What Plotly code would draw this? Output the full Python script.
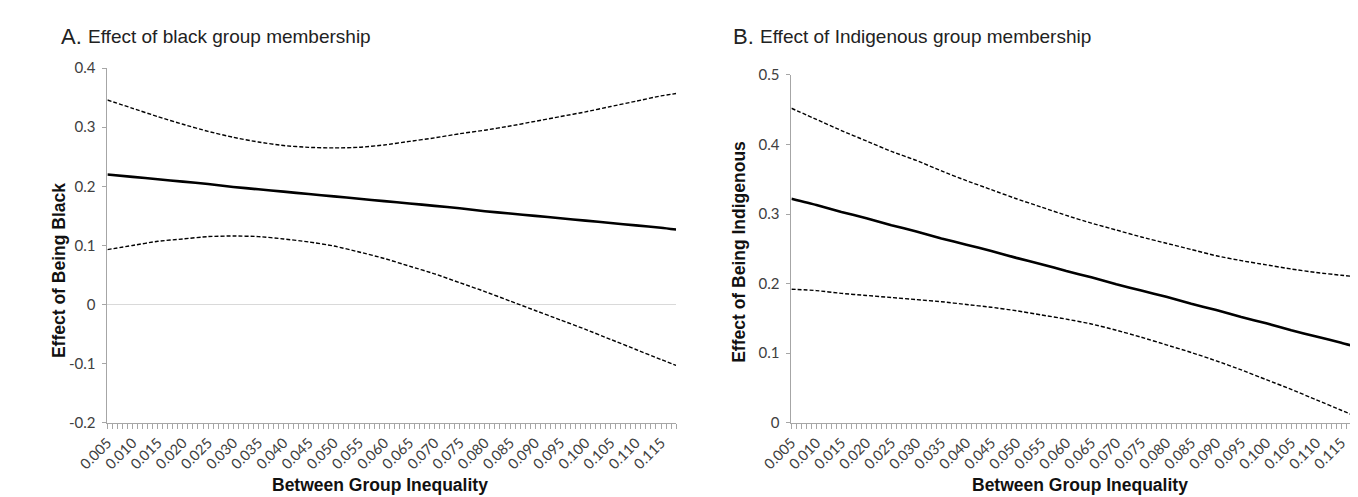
import plotly.graph_objects as go

# ---------------- data ----------------
x_vals = [0.005, 0.010, 0.015, 0.020, 0.025, 0.030, 0.035, 0.040, 0.045, 0.050,
          0.055, 0.060, 0.065, 0.070, 0.075, 0.080, 0.085, 0.090, 0.095, 0.100,
          0.105, 0.110, 0.115, 0.118]

black_effect = [0.220, 0.216, 0.212, 0.208, 0.204, 0.199, 0.195, 0.191, 0.187, 0.183,
                0.179, 0.175, 0.171, 0.167, 0.163, 0.158, 0.154, 0.150, 0.146, 0.142,
                0.138, 0.134, 0.130, 0.127]
black_upper = [0.346, 0.332, 0.318, 0.305, 0.293, 0.283, 0.275, 0.269, 0.266, 0.265,
               0.266, 0.270, 0.276, 0.282, 0.289, 0.295, 0.302, 0.310, 0.318, 0.326,
               0.335, 0.344, 0.353, 0.357]
black_lower = [0.093, 0.100, 0.107, 0.111, 0.115, 0.116, 0.115, 0.111, 0.106, 0.099,
               0.089, 0.078, 0.065, 0.052, 0.037, 0.022, 0.006, -0.010, -0.026, -0.042,
               -0.059, -0.076, -0.093, -0.103]

indig_effect = [0.322, 0.313, 0.303, 0.294, 0.284, 0.275, 0.265, 0.256, 0.247, 0.237,
                0.228, 0.218, 0.209, 0.199, 0.190, 0.181, 0.171, 0.162, 0.152, 0.143,
                0.133, 0.124, 0.115, 0.109]
indig_upper = [0.452, 0.436, 0.420, 0.405, 0.390, 0.377, 0.362, 0.348, 0.335, 0.322,
               0.310, 0.298, 0.287, 0.277, 0.267, 0.258, 0.249, 0.240, 0.233, 0.227,
               0.221, 0.216, 0.212, 0.210]
indig_lower = [0.192, 0.190, 0.186, 0.183, 0.180, 0.177, 0.174, 0.170, 0.166, 0.161,
               0.155, 0.149, 0.142, 0.133, 0.123, 0.112, 0.101, 0.089, 0.076, 0.062,
               0.048, 0.033, 0.018, 0.009]

ya_tickvals = [-0.2, -0.1, 0, 0.1, 0.2, 0.3, 0.4]
ya_ticktext = ["-0.2", "-0.1", "0", "0.1", "0.2", "0.3", "0.4"]
yb_tickvals = [0, 0.1, 0.2, 0.3, 0.4, 0.5]
yb_ticktext = ["0", "0.1", "0.2", "0.3", "0.4", "0.5"]

title_a_letter = "A."
title_a_text = "Effect of black group membership"
title_b_letter = "B."
title_b_text = "Effect of Indigenous group membership"
ytitle_a = "Effect of Being Black"
ytitle_b = "Effect of Being Indigenous"
xtitle = "Between Group Inequality"

# ---------------- figure ----------------
W, H = 1358, 497
AXC = "#a6a6a6"
XTICKFONT = dict(family="Lato, Liberation Sans, Arial", size=14.5, color="#404040")
YTICKFONT = dict(family="Lato, Liberation Sans, Arial", size=15, color="#404040")

fig = go.Figure()

def add_panel(xa, ya, eff, up, lo):
    for ys, dash, w in ((up, "4px,2px", 1.4), (lo, "4px,2px", 1.4), (eff, "solid", 2.6)):
        fig.add_trace(go.Scatter(x=x_vals, y=ys, mode="lines", xaxis=xa, yaxis=ya,
                                 line=dict(color="black", width=w, dash=dash,
                                           shape="spline", smoothing=0.6),
                                 hoverinfo="skip", showlegend=False))

add_panel("x", "y", black_effect, black_upper, black_lower)
add_panel("x2", "y2", indig_effect, indig_upper, indig_lower)

def px_x(p):
    return p / W

def px_y(p):
    return 1 - p / H

xaxis_common = dict(
    range=[0.005, 0.118], tick0=0.005, dtick=0.005, tickformat=".3f",
    tickangle=-45, ticks="outside", ticklen=5, tickcolor=AXC, tickwidth=1,
    showline=True, linecolor=AXC, linewidth=1, showgrid=False, zeroline=False,
    tickfont=XTICKFONT,
    minor=dict(tick0=0.005, dtick=0.001, ticks="outside", ticklen=5,
               tickcolor=AXC, tickwidth=1, showgrid=False),
)

fig.update_layout(
    width=W, height=H, margin=dict(l=0, r=0, t=0, b=0),
    paper_bgcolor="white", plot_bgcolor="white", showlegend=False,
    xaxis=dict(domain=[px_x(70), px_x(652)], anchor="y", **xaxis_common),
    xaxis2=dict(domain=[px_x(770), px_x(1348)], anchor="y2", **xaxis_common),
    yaxis=dict(domain=[px_y(420), px_y(52)], anchor="x", range=[-0.2, 0.4],
               tickvals=ya_tickvals, ticktext=ya_ticktext, ticks="outside",
               ticklen=4, tickcolor=AXC, showline=True, linecolor=AXC,
               showgrid=False, zeroline=True, zerolinecolor="#d9d9d9",
               zerolinewidth=1, tickfont=YTICKFONT, ticklabelstandoff=4),
    yaxis2=dict(domain=[px_y(420), px_y(59)], anchor="x2", range=[0, 0.5],
                tickvals=yb_tickvals, ticktext=yb_ticktext, ticks="outside",
                ticklen=4, tickcolor=AXC, showline=True, linecolor=AXC,
                showgrid=False, zeroline=False, tickfont=YTICKFONT,
                ticklabelstandoff=4),
)

TFONT = "Liberation Sans, Arial"
ann = []
# panel titles
ann.append(dict(x=px_x(20), y=px_y(19), text=title_a_letter, xanchor="left", yanchor="middle",
                font=dict(family=TFONT, size=22, color="#222")))
ann.append(dict(x=px_x(48), y=px_y(19), text=title_a_text, xanchor="left", yanchor="middle",
                font=dict(family=TFONT, size=19, color="#222")))
ann.append(dict(x=px_x(708), y=px_y(19), text=title_b_letter, xanchor="left", yanchor="middle",
                font=dict(family=TFONT, size=22, color="#222")))
ann.append(dict(x=px_x(736), y=px_y(19), text=title_b_text, xanchor="left", yanchor="middle",
                font=dict(family=TFONT, size=19, color="#222")))
# y axis titles
ann.append(dict(x=px_x(20), y=px_y(262), text=ytitle_a, textangle=-90, xanchor="center",
                yanchor="middle", font=dict(family=TFONT, size=17.5, color="#111", weight="bold")))
ann.append(dict(x=px_x(717), y=px_y(243), text=ytitle_b, textangle=-90, xanchor="center",
                yanchor="middle", font=dict(family=TFONT, size=17.5, color="#111", weight="bold")))
# x axis titles
ann.append(dict(x=px_x(349), y=px_y(485), text=xtitle, xanchor="center", yanchor="middle",
                font=dict(family=TFONT, size=17.5, color="#111", weight="bold")))
ann.append(dict(x=px_x(1065), y=px_y(485), text=xtitle, xanchor="center", yanchor="middle",
                font=dict(family=TFONT, size=17.5, color="#111", weight="bold")))
for a in ann:
    a.update(xref="paper", yref="paper", showarrow=False)
fig.update_layout(annotations=ann)

fig.write_html("out.html")
